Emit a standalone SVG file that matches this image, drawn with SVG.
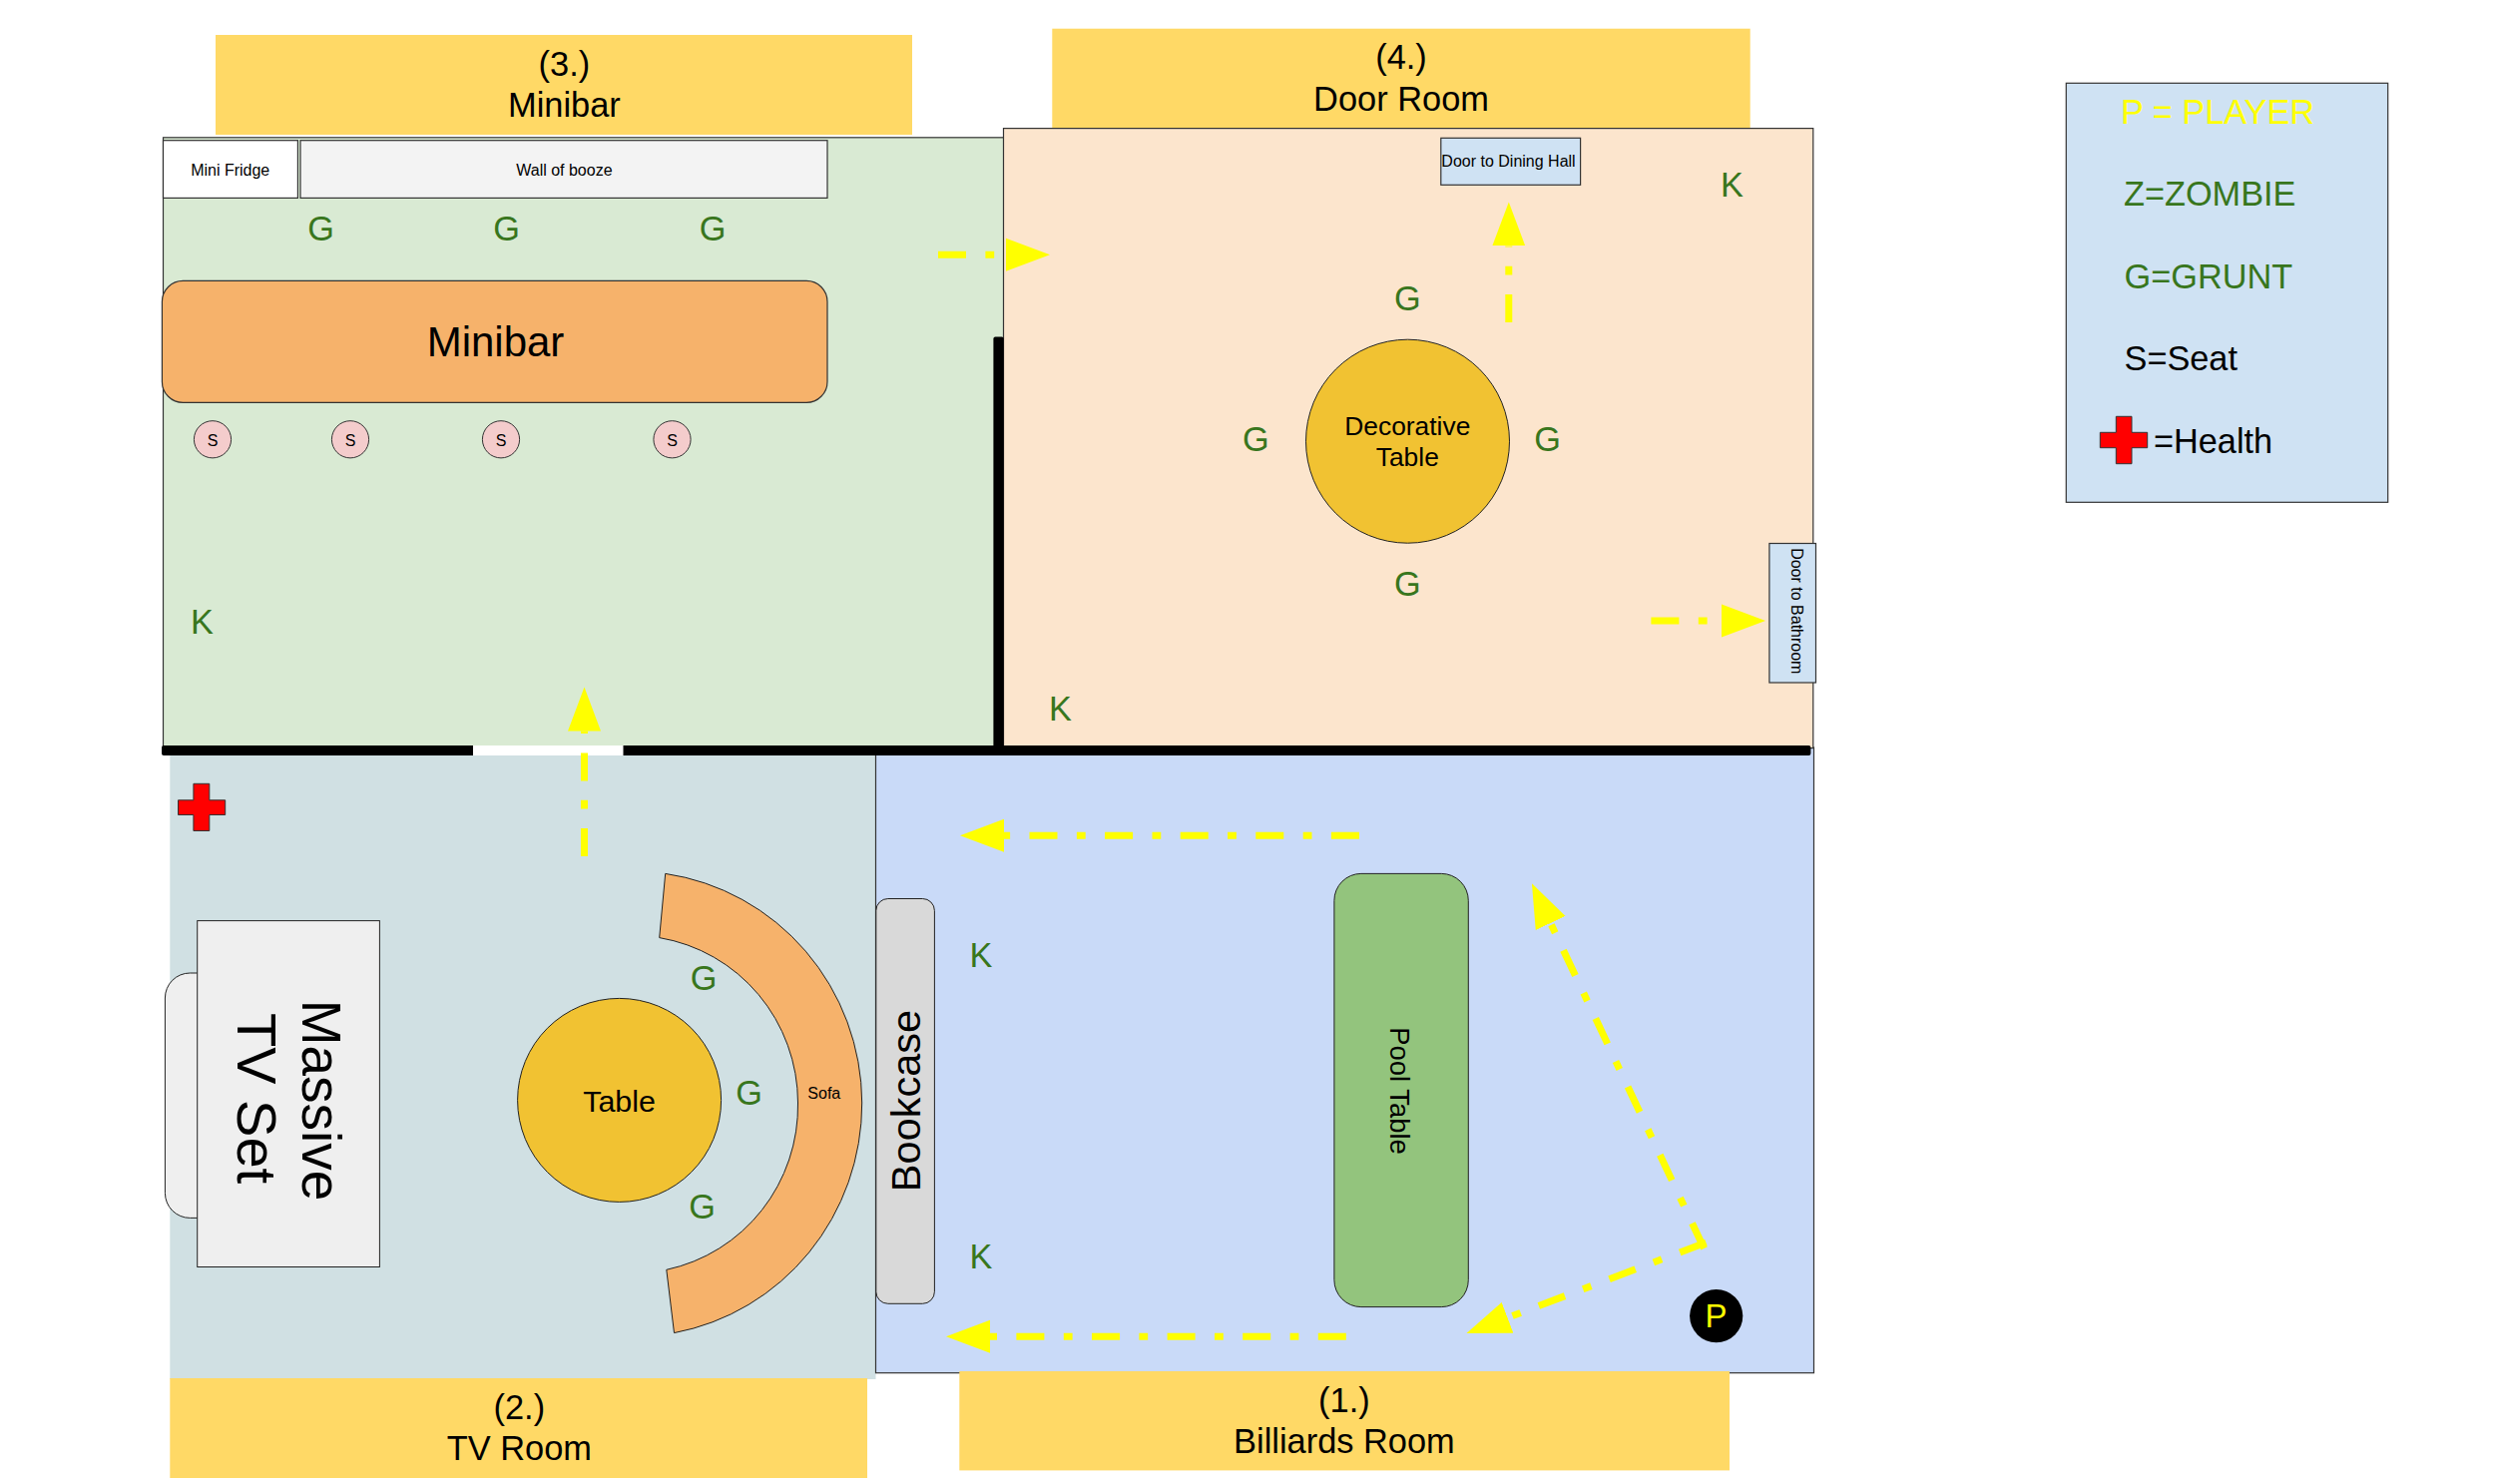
<svg xmlns="http://www.w3.org/2000/svg" width="2500" height="1487" viewBox="0 0 2500 1487">
<style>
text{font-family:"Liberation Sans",Arial,sans-serif;fill:#000}
.m{text-anchor:middle}
.s{stroke:#333;stroke-width:1.2}
.thin{stroke:#222;stroke-width:1}
.lab{fill:#ffd966}
.f16{font-size:16px}
.f34{font-size:34.4px}
.g{font-size:34.3px;fill:#38761d}
.seat{fill:#f4cccc;stroke:#333;stroke-width:1}
.tbl{fill:#f1c232;stroke:#222;stroke-width:1}
.door{fill:#cfe2f3;stroke:#333;stroke-width:1.2}
.cross{fill:#f00;stroke:#333;stroke-width:1}
.path{fill:none;stroke:#ff0;stroke-width:7;stroke-dasharray:28 19.4 8.8 19.4;marker-end:url(#head)}
</style>
<defs>
<marker id="head" markerUnits="userSpaceOnUse" markerWidth="46" markerHeight="34" refX="0" refY="16.5" orient="auto" viewBox="0 0 46 33">
<polygon points="0,0 44,16.5 0,33" fill="#ff0"/>
</marker>
</defs>
<rect width="2500" height="1487" fill="#fff"/>

<g id="label-door-room"><rect class="lab" x="1054.3" y="28.7" width="699.4" height="100"/></g>
<g id="room-tv"><rect x="170.3" y="750" width="707.2" height="632" fill="#d0e0e3"/></g>
<g id="room-billiards"><rect class="s" x="877.5" y="749" width="940" height="626.7" fill="#c9daf8"/></g>
<g id="room-minibar"><rect class="s" x="163.5" y="137.8" width="842.5" height="612" fill="#d9ead3"/></g>
<g id="room-door"><rect class="s" x="1005.5" y="128.6" width="811.3" height="621" fill="#fce5cd"/></g>

<g id="label-minibar"><rect class="lab" x="216" y="35" width="698" height="100"/>
<text class="m f34" x="565.4" y="75.5">(3.)</text><text class="m f34" x="565.4" y="117">Minibar</text></g>
<text class="m f34" x="1404" y="68.5">(4.)</text><text class="m f34" x="1404" y="111">Door Room</text>
<g id="label-tv"><rect class="lab" x="170.3" y="1381" width="698.7" height="100"/>
<text class="m f34" x="520.3" y="1421.5">(2.)</text><text class="m f34" x="520.3" y="1462.5">TV Room</text></g>
<g id="label-billiards"><rect class="lab" x="961.3" y="1374" width="771.7" height="99.4"/>
<text class="m f34" x="1346.9" y="1415">(1.)</text><text class="m f34" x="1346.9" y="1456">Billiards Room</text></g>

<g id="walls"><rect x="162" y="747" width="1652.4" height="10" fill="#000" rx="2"/><rect x="995.4" y="337.5" width="10.3" height="419" fill="#000" rx="2"/><rect x="474" y="747" width="150.5" height="10" fill="#fff"/></g>

<g id="mini-fridge"><rect class="s" x="163.5" y="140.7" width="134.9" height="57.7" fill="#fff"/><text class="m f16" x="230.7" y="175.6">Mini Fridge</text></g>
<g id="wall-of-booze"><rect class="s" x="301" y="140.7" width="528" height="57.7" fill="#f3f3f3"/><text class="m f16" x="565.4" y="175.6">Wall of booze</text></g>
<g id="minibar"><rect class="s" x="162.4" y="281.3" width="666.6" height="122.1" rx="21" fill="#f6b26b"/><text class="m" style="font-size:42px" x="496.5" y="357">Minibar</text></g>
<g id="seat-1"><circle class="seat" cx="213" cy="440.3" r="18.6"/><text class="m f16" x="213" y="446.5">S</text></g>
<g id="seat-2"><circle class="seat" cx="351" cy="440.3" r="18.6"/><text class="m f16" x="351" y="446.5">S</text></g>
<g id="seat-3"><circle class="seat" cx="502" cy="440.3" r="18.6"/><text class="m f16" x="502" y="446.5">S</text></g>
<g id="seat-4"><circle class="seat" cx="673.5" cy="440.3" r="18.6"/><text class="m f16" x="673.5" y="446.5">S</text></g>
<g id="enemies-minibar"><text class="m g" x="321.5" y="240.6">G</text><text class="m g" x="507.5" y="240.6">G</text><text class="m g" x="714" y="240.6">G</text><text class="m g" x="202.5" y="634.6">K</text></g>

<g id="door-dining"><rect class="door" x="1443.8" y="138.3" width="139.8" height="47"/><text class="m f16" x="1511.5" y="167.4">Door to Dining Hall</text></g>
<g id="door-bathroom"><rect class="door" x="1772.9" y="544.5" width="46.6" height="139.5"/><text class="m f16" transform="translate(1794.8 612.3) rotate(90)">Door to Bathroom</text></g>
<g id="decorative-table"><circle class="tbl" cx="1410.5" cy="442.2" r="102"/><text class="m" style="font-size:26.4px" x="1410.3" y="436">Decorative</text><text class="m" style="font-size:26.4px" x="1410.3" y="467.4">Table</text></g>
<g id="enemies-door"><text class="m g" x="1410.3" y="310.5">G</text><text class="m g" x="1258.4" y="451.9">G</text><text class="m g" x="1550.7" y="451.9">G</text><text class="m g" x="1410.3" y="597.3">G</text><text class="m g" x="1735.5" y="197">K</text><text class="m g" x="1062.5" y="722">K</text></g>

<g id="health"><polygon class="cross" points="193.9,785.3 209.8,785.3 209.8,801.8 225.7,801.8 225.7,816.5 209.8,816.5 209.8,832.5 193.9,832.5 193.9,816.5 178.5,816.5 178.5,801.8 193.9,801.8"/></g>
<g id="tv-set"><rect class="thin" x="165.4" y="975" width="70" height="245.4" rx="25" fill="#efefef"/><rect class="thin" x="197.7" y="922.6" width="182.7" height="346.9" fill="#efefef"/>
<text class="m" style="font-size:55px" transform="translate(303 1102.5) rotate(90)">Massive</text><text class="m" style="font-size:56px" transform="translate(237.5 1100.5) rotate(90)">TV Set</text></g>
<g id="table"><circle class="tbl" cx="620.6" cy="1102.4" r="102"/><text class="m" style="font-size:30.4px" x="620.6" y="1113.5">Table</text></g>
<g id="sofa"><path d="M666.7 875.4A230 233 0 0 1 863.7 1105A230 234 0 0 1 675.5 1335.6L667.8 1272.3A166 168 0 0 0 799.5 1105A166 168 0 0 0 660.7 939.6Z" fill="#f6b26b" stroke="#222" stroke-width="1"/><text class="m f16" x="825.8" y="1109" transform="translate(0 -8)">Sofa</text></g>
<g id="enemies-tv"><text class="m g" x="705" y="991.5">G</text><text class="m g" x="750.7" y="1106.7">G</text><text class="m g" x="703.5" y="1221.4">G</text></g>
<g id="bookcase"><rect class="thin" x="877.8" y="900.5" width="58.6" height="405.8" rx="12" fill="#d9d9d9"/><text class="m" style="font-size:41.5px" transform="translate(921.5 1103) rotate(-90)">Bookcase</text></g>
<g id="enemies-billiards"><text class="m g" x="983" y="968.9">K</text><text class="m g" x="983" y="1271.4">K</text></g>
<g id="pool-table"><rect class="thin" x="1336.9" y="875.4" width="134.4" height="434.2" rx="27" fill="#93c47d"/><text class="m" style="font-size:27.4px" transform="translate(1393 1093) rotate(90)">Pool Table</text></g>
<g id="player"><circle cx="1719.7" cy="1318.6" r="26.6" fill="#000"/><text class="m" style="font-size:33px;fill:#ff0" x="1719.5" y="1330">P</text></g>

<g id="legend"><rect class="s" x="2070.3" y="83.3" width="322.4" height="420" fill="#cfe2f3"/>
<text style="font-size:34.3px;fill:#ff0" x="2125" y="124.3">P = PLAYER</text>
<text class="g" x="2128" y="206">Z=ZOMBIE</text>
<text class="g" x="2128.5" y="288.7">G=GRUNT</text>
<text style="font-size:34.3px" x="2128.5" y="371.3">S=Seat</text>
<polygon class="cross" points="2120.3,417.3 2136,417.3 2136,433.3 2151.7,433.3 2151.7,448.7 2136,448.7 2136,464.7 2120.3,464.7 2120.3,448.7 2104.3,448.7 2104.3,433.3 2120.3,433.3"/>
<text style="font-size:34.3px" x="2158" y="454">=Health</text></g>

<g id="connectors">
<path class="path" d="M1361.9 837.2L1006 837.2"/>
<path class="path" d="M1348.8 1339.3L992 1339.3"/>
<path class="path" d="M1707.5 1251L1553.7 925"/>
<path class="path" d="M1709.4 1245L1510.6 1320.4"/>
<path class="path" d="M585.5 858L585.5 732.6"/>
<path class="path" d="M940 255.3L1008 255.3"/>
<path class="path" d="M1511.8 323L1511.8 246.4"/>
<path class="path" d="M1654.4 622L1725 622"/>
</g>
</svg>
